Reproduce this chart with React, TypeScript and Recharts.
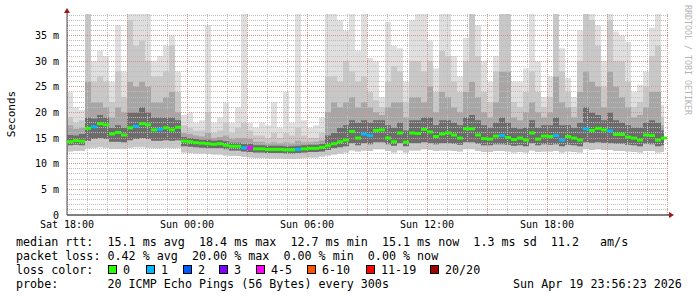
import { ComposedChart, Area, Scatter, XAxis, YAxis, CartesianGrid } from 'recharts'

// one consolidated sample every 18 minutes, starting Sat 18:00
const STEP_H = 0.3
const X_MAX = 30.1
const Y_MAX = 39.2

const median = [
  14.3, 14.5, 14.4, 16.9, 17.2, 17.8, 17.6, 15.8, 16.1, 15.6,
  17.0, 17.3, 17.8, 17.6, 16.6, 16.7, 17.0, 16.6, 17.1, 14.4,
  14.3, 14.1, 14.0, 13.9, 13.8, 13.9, 13.6, 13.4, 13.4, 13.1,
  13.1, 12.9, 12.9, 12.8, 12.8, 12.8, 12.7, 12.7, 12.8, 12.9,
  13.0, 13.0, 13.2, 13.5, 13.9, 14.3, 14.6, 16.3, 15.0, 15.8,
  15.5, 16.5, 16.6, 15.0, 14.3, 16.0, 14.2, 16.0, 15.9, 16.7,
  16.2, 15.3, 15.8, 16.0, 15.6, 15.0, 16.8, 16.8, 15.6, 14.9,
  14.8, 15.4, 15.5, 15.1, 14.7, 15.0, 14.6, 16.0, 14.8, 15.4,
  15.3, 15.5, 14.6, 15.3, 15.0, 14.6, 16.8, 16.5, 16.9, 16.6,
  16.4, 15.7, 15.7, 15.2, 15.0, 14.6, 15.6, 15.5, 14.6, 15.0,
]

// lost pings out of 20 per sample
const loss = [
  0, 0, 0, 0, 1, 0, 0, 0, 0, 0,
  0, 1, 0, 0, 0, 1, 0, 0, 0, 0,
  0, 0, 0, 0, 0, 0, 0, 0, 0, 1,
  4, 0, 0, 0, 0, 0, 0, 0, 1, 0,
  0, 0, 0, 0, 0, 0, 0, 0, 0, 1,
  1, 0, 0, 0, 0, 0, 0, 0, 0, 0,
  0, 0, 0, 0, 0, 0, 0, 0, 0, 0,
  0, 0, 1, 0, 0, 0, 0, 0, 0, 0,
  0, 1, 1, 0, 0, 0, 1, 0, 0, 0,
  1, 0, 0, 0, 0, 0, 0, 0, 0, 0,
]

// smoke: upper edges, lightest (slowest pings) to darkest
const smokeTop1 = [
  24, 21, 20.5, 39.2, 30, 32, 31, 26, 37, 28,
  39.2, 39.2, 39.2, 39.2, 30, 31, 33, 35, 28, 19.5,
  20, 18, 18.5, 37, 18, 19, 22, 18, 21, 39.2,
  18, 17, 18, 17.5, 22, 17, 24, 18, 39.2, 18.5,
  17, 17.5, 19, 39.2, 39.2, 38, 36, 39.2, 32, 39.2,
  30.6, 30, 23, 37.7, 33, 32.5, 26, 38, 39.2, 39.2,
  34, 28.6, 39.2, 39.2, 31, 27, 34.5, 39.2, 37, 30,
  26, 31, 39.2, 39.2, 26, 26, 28.6, 39.2, 30, 23,
  27, 39.2, 32.5, 26.7, 23, 36, 39.2, 39.2, 37, 30,
  39.2, 35.8, 35, 33.8, 24, 25.4, 28, 36.5, 39.2, 21.5,
]
const smokeTop2 = [
  19, 18, 18.5, 39.2, 26, 27, 26, 22, 28, 23,
  38, 33, 34, 30, 27, 27, 28, 33, 24, 17.5,
  17, 16.5, 16.5, 20, 16, 16.5, 18, 16, 17, 18,
  16.5, 15.5, 15.5, 15, 16, 15, 16, 15.5, 17, 15.5,
  15, 15, 16, 27, 27, 26, 30, 28, 26, 27,
  24, 22.4, 21, 26, 29, 28, 22, 30, 30, 28,
  30, 24, 32, 31, 26, 24, 30, 39.2, 31, 24,
  22, 28, 39.2, 39.2, 22, 21, 24, 28, 24, 21,
  23, 39.2, 28, 24, 21, 30, 39.2, 38, 33, 25,
  38, 30, 30, 26, 21, 22, 25, 31, 33, 19,
]
const smokeTop3 = [
  17.5, 16.8, 17, 26, 22, 22, 21, 19, 21, 20,
  26, 25, 26, 25, 22, 22, 23, 24, 20, 16,
  15.8, 15.5, 15.3, 16, 15, 15.2, 15.5, 14.8, 15, 15,
  14.8, 14.3, 14.3, 14, 14.2, 14, 14.2, 14, 14.5, 14.2,
  14.2, 14.3, 14.6, 20, 22, 21, 22, 23, 21, 22,
  21, 20, 19.5, 21, 22, 22, 19, 23, 23, 22,
  25, 20, 24, 23, 21, 20, 24, 26, 23, 20,
  19, 22, 28, 28, 19, 18.5, 20, 22, 20, 19,
  20, 27, 22, 21, 19, 24, 28, 26, 25, 21,
  28, 25, 23, 21, 19, 19.5, 21, 24, 24, 17.5,
]
const smokeTop4 = [
  15.6, 15.5, 15.8, 19, 18.8, 19.5, 19, 17, 17.5, 17,
  20, 20, 21, 20, 19, 19, 19, 19, 18.5, 15.2,
  15, 14.8, 14.7, 14.7, 14.5, 14.6, 14.4, 14.1, 14.1, 13.9,
  13.9, 13.6, 13.6, 13.5, 13.5, 13.5, 13.4, 13.4, 13.5, 13.6,
  13.7, 13.7, 13.9, 15.5, 16, 17, 17.5, 18.5, 18, 18.5,
  18, 18.5, 18.5, 17.5, 17, 18, 16.5, 18.5, 18.5, 19,
  19, 17.5, 18.5, 18.5, 18, 17.5, 19, 19.5, 18.5, 17.5,
  17, 18, 19, 18, 17, 16.8, 17, 18.5, 17, 17.5,
  17.5, 19, 17.5, 17.5, 17, 18, 21, 20, 19.5, 18.5,
  20, 18.5, 18, 17.5, 17, 17, 18, 18.5, 18, 16.5,
]
// smoke: lower edges (fastest pings)
const smokeLowInner = [
  13.6, 13.7, 13.6, 14.5, 14.8, 15, 14.8, 14.3, 14.3, 14.2,
  14.6, 14.8, 15, 14.8, 14.5, 14.5, 14.6, 14.5, 14.6, 13.4,
  13.3, 13.2, 13.1, 13.0, 13.0, 13.0, 12.8, 12.6, 12.6, 12.4,
  12.3, 12.2, 12.2, 12.1, 12.1, 12.1, 12.0, 12.0, 12.1, 12.2,
  12.3, 12.3, 12.4, 12.7, 13.0, 13.2, 13.4, 14.0, 13.6, 14.0,
  13.8, 14.2, 14.2, 13.8, 13.5, 14.0, 13.4, 14.0, 14.0, 14.2,
  14.0, 13.8, 14.0, 14.0, 13.9, 13.7, 14.2, 14.2, 13.9, 13.6,
  13.6, 13.8, 13.8, 13.7, 13.5, 13.6, 13.4, 14.0, 13.6, 13.8,
  13.7, 13.8, 13.4, 13.7, 13.6, 13.4, 14.2, 14.1, 14.2, 14.1,
  14.0, 13.9, 13.9, 13.7, 13.6, 13.4, 13.9, 13.8, 13.4, 13.6,
]
const smokeLowOuter = [
  12.4, 12.5, 12.5, 13.0, 13.1, 13.2, 13.1, 12.9, 12.9, 12.9,
  13.1, 13.2, 13.2, 13.1, 13.0, 13.0, 13.1, 13.0, 13.1, 12.2,
  12.1, 12.0, 12.0, 11.9, 11.8, 11.8, 11.6, 11.5, 11.5, 11.3,
  11.2, 11.1, 11.1, 11.0, 11.0, 11.0, 10.9, 10.9, 11.0, 11.1,
  11.2, 11.2, 11.4, 11.6, 11.8, 12.0, 12.2, 12.6, 12.4, 12.6,
  12.5, 12.8, 12.8, 12.5, 12.2, 12.6, 12.2, 12.6, 12.6, 12.8,
  12.7, 12.5, 12.6, 12.6, 12.5, 12.4, 12.8, 12.8, 12.5, 12.3,
  12.3, 12.5, 12.5, 12.4, 12.2, 12.3, 12.2, 12.6, 12.3, 12.4,
  12.4, 12.5, 12.2, 12.4, 12.3, 12.2, 12.8, 12.7, 12.8, 12.7,
  12.7, 12.5, 12.5, 12.4, 12.3, 12.2, 12.5, 12.5, 12.2, 12.3,
]

const xTicks = [0, 6, 12, 18, 24]
const xLabels = ['Sat 18:00', 'Sun 00:00', 'Sun 06:00', 'Sun 12:00', 'Sun 18:00']
const yTicks = [0, 5, 10, 15, 20, 25, 30, 35]

const lossLegend = [
  { label: '0', color: '#26ff00', x: 108 },
  { label: '1', color: '#00b8ff', x: 146 },
  { label: '2', color: '#0059ff', x: 183 },
  { label: '3', color: '#7e00ff', x: 219 },
  { label: '4-5', color: '#ff00ff', x: 256 },
  { label: '6-10', color: '#ff5500', x: 307 },
  { label: '11-19', color: '#ff0000', x: 366 },
  { label: '20/20', color: '#a10000', x: 430 },
]

function lossColor(n: number) {
  if (n === 0) return lossLegend[0].color
  if (n <= 3) return lossLegend[n].color
  if (n <= 5) return lossLegend[4].color
  if (n <= 10) return lossLegend[5].color
  if (n <= 19) return lossLegend[6].color
  return lossLegend[7].color
}

const W = 697
const H = 297
const PLOT = { left: 67, top: 14, right: 669, bottom: 215 }
const mono = "'DejaVu Sans Mono', monospace"

const minorX = Array.from({ length: 31 }, (_, k) => k).filter((h) => h % 3 !== 0)
const majorX = Array.from({ length: 11 }, (_, k) => k * 3)
const minorY = Array.from({ length: 39 }, (_, k) => k + 1).filter((v) => v % 5 !== 0)
const majorY = [5, 10, 15, 20, 25, 30, 35]

const legendText: React.CSSProperties = {
  position: 'absolute',
  fontFamily: mono,
  fontSize: '11.7px',
  lineHeight: '14px',
  whiteSpace: 'pre',
  color: '#000',
}

function YTick(props: any) {
  const { x, y, payload } = props
  const v = payload.value
  return (
    <text x={x} y={y} dy="0.355em" textAnchor="end" fontFamily={mono} fontSize={10} fill="#000">
      {v === 0 ? '0' : `${v} m`}
    </text>
  )
}

function XTick(props: any) {
  const { x, y, payload } = props
  return (
    <text x={x} y={y} dy="0.71em" textAnchor="middle" fontFamily={mono} fontSize={10} fill="#000">
      {xLabels[xTicks.indexOf(payload.value)] ?? ''}
    </text>
  )
}

export default function App() {
  const rows = median.map((m, i) => ({
    t: i * STEP_H,
    med: m,
    loss: loss[i],
    s1: [smokeLowOuter[i], smokeTop1[i]],
    s2: [smokeLowOuter[i], smokeTop2[i]],
    s3: [smokeLowInner[i], smokeTop3[i]],
    s4: [smokeLowInner[i], smokeTop4[i]],
  }))
  const last = rows[rows.length - 1]
  const table = [...rows, { ...last, t: last.t + STEP_H / 2 }]
  const stepPx = ((PLOT.right - PLOT.left) / X_MAX) * STEP_H

  const medShape = (p: any) => (
    <rect x={p.cx} y={p.cy - 1.5} width={stepPx} height={3} fill={lossColor(p.payload.loss)} />
  )

  return (
    <div style={{ position: 'absolute', left: 0, top: 0, width: W, height: H, background: '#fff', overflow: 'hidden' }}>
      <ComposedChart
        width={W}
        height={H}
        data={table}
        margin={{ top: PLOT.top, right: W - PLOT.right, left: 7, bottom: H - PLOT.bottom - 20 }}
      >
        <XAxis
          dataKey="t"
          type="number"
          domain={[0, X_MAX]}
          allowDataOverflow
          ticks={xTicks}
          interval={0}
          tickLine={false}
          tickSize={4}
          tickMargin={2}
          height={20}
          axisLine={{ stroke: '#000' }}
          tick={<XTick />}
        />
        <YAxis
          type="number"
          domain={[0, Y_MAX]}
          allowDataOverflow
          ticks={yTicks}
          interval={0}
          tickLine={false}
          width={60}
          axisLine={{ stroke: '#555' }}
          tick={<YTick />}
        />
        <Area dataKey="s1" type="stepAfter" fill="#dfdfdf" fillOpacity={1} stroke="none" isAnimationActive={false} />
        <Area dataKey="s2" type="stepAfter" fill="#c8c8c8" fillOpacity={1} stroke="none" isAnimationActive={false} />
        <Area dataKey="s3" type="stepAfter" fill="#a6a6a6" fillOpacity={1} stroke="none" isAnimationActive={false} />
        <Area dataKey="s4" type="stepAfter" fill="#6c6c6c" fillOpacity={1} stroke="none" isAnimationActive={false} />
        <CartesianGrid
          horizontalValues={minorY}
          verticalValues={minorX}
          stroke="#bdbdbd"
          strokeDasharray="1 1"
          shapeRendering="crispEdges"
          {...({ zIndex: 150 } as any)}
        />
        <CartesianGrid
          horizontalValues={majorY}
          verticalValues={majorX}
          stroke="#d89090"
          strokeDasharray="1 1"
          shapeRendering="crispEdges"
          {...({ zIndex: 160 } as any)}
        />
        <Scatter data={rows} dataKey="med" shape={medShape} isAnimationActive={false} />
      </ComposedChart>

      <svg width={W} height={H} style={{ position: 'absolute', left: 0, top: 0, pointerEvents: 'none' }}>
        <line x1={PLOT.left} y1={PLOT.top} x2={PLOT.left} y2={11} stroke="#555" />
        <polygon points={`${PLOT.left - 3},13 ${PLOT.left + 3},13 ${PLOT.left},8`} fill="#a01818" />
        <polygon points={`${PLOT.right},212 ${PLOT.right},218 ${PLOT.right + 5},215`} fill="#a01818" />
        <text
          x={11}
          y={114}
          transform="rotate(-90 11 114)"
          textAnchor="middle"
          dominantBaseline="central"
          fontFamily={mono}
          fontSize={11}
          fill="#000"
        >
          Seconds
        </text>
        <text
          x={688}
          y={60}
          transform="rotate(90 688 60)"
          textAnchor="middle"
          dominantBaseline="central"
          fontFamily={mono}
          fontSize={8.3}
          fill="#b4b4b4"
        >
          RRDTOOL / TOBI OETIKER
        </text>
      </svg>

      <div style={{ ...legendText, left: 16, top: 235 }}>
        {'median rtt:  15.1 ms avg  18.4 ms max  12.7 ms min  15.1 ms now  1.3 ms sd  11.2   am/s'}
      </div>
      <div style={{ ...legendText, left: 16, top: 249 }}>
        {'packet loss: 0.42 % avg  20.00 % max  0.00 % min  0.00 % now'}
      </div>
      <div style={{ ...legendText, left: 16, top: 263 }}>{'loss color:'}</div>
      {lossLegend.map((e) => (
        <div key={e.label}>
          <span
            style={{
              position: 'absolute',
              left: e.x,
              top: 265,
              width: 9,
              height: 9,
              boxSizing: 'border-box',
              border: '1px solid #000',
              background: e.color,
            }}
          />
          <div style={{ ...legendText, left: e.x + 15, top: 263 }}>{e.label}</div>
        </div>
      ))}
      <div style={{ ...legendText, left: 16, top: 277 }}>
        {'probe:       20 ICMP Echo Pings (56 Bytes) every 300s'}
      </div>
      <div style={{ ...legendText, left: 513, top: 277 }}>{'Sun Apr 19 23:56:23 2026'}</div>
    </div>
  )
}
